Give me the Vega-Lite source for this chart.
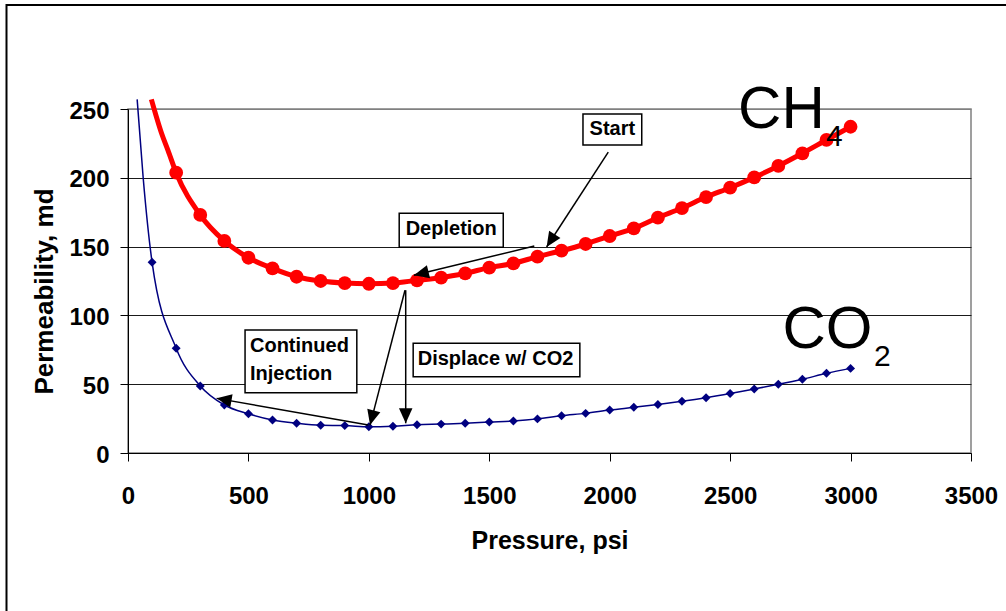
{
  "$schema": "https://vega.github.io/schema/vega-lite/v6.json",
  "width": 843,
  "height": 344,
  "autosize": "none",
  "padding": {"left": 128, "top": 109, "right": 35, "bottom": 158},
  "background": "white",
  "config": {
    "font": "Liberation Sans",
    "view": {"stroke": "#808080", "strokeWidth": 1.5}
  },
  "datasets": {
    "curves": [
      {"gas": "CH4", "p": 97, "k": 257, "obs": "curve"},
      {"gas": "CH4", "p": 140, "k": 232, "obs": "curve"},
      {"gas": "CH4", "p": 166, "k": 220, "obs": "curve"},
      {"gas": "CH4", "p": 200, "k": 203.7, "obs": "measured"},
      {"gas": "CH4", "p": 300, "k": 173, "obs": "measured"},
      {"gas": "CH4", "p": 400, "k": 154.1, "obs": "measured"},
      {"gas": "CH4", "p": 500, "k": 141.9, "obs": "measured"},
      {"gas": "CH4", "p": 600, "k": 134.2, "obs": "measured"},
      {"gas": "CH4", "p": 700, "k": 128.1, "obs": "measured"},
      {"gas": "CH4", "p": 800, "k": 125, "obs": "measured"},
      {"gas": "CH4", "p": 900, "k": 123.5, "obs": "measured"},
      {"gas": "CH4", "p": 1000, "k": 123, "obs": "measured"},
      {"gas": "CH4", "p": 1100, "k": 123.5, "obs": "measured"},
      {"gas": "CH4", "p": 1200, "k": 125.5, "obs": "measured"},
      {"gas": "CH4", "p": 1300, "k": 127.4, "obs": "measured"},
      {"gas": "CH4", "p": 1400, "k": 130.6, "obs": "measured"},
      {"gas": "CH4", "p": 1500, "k": 134.7, "obs": "measured"},
      {"gas": "CH4", "p": 1600, "k": 137.8, "obs": "measured"},
      {"gas": "CH4", "p": 1700, "k": 142.7, "obs": "measured"},
      {"gas": "CH4", "p": 1800, "k": 147, "obs": "measured"},
      {"gas": "CH4", "p": 1900, "k": 151.9, "obs": "measured"},
      {"gas": "CH4", "p": 2000, "k": 157.7, "obs": "measured"},
      {"gas": "CH4", "p": 2100, "k": 163.3, "obs": "measured"},
      {"gas": "CH4", "p": 2200, "k": 171, "obs": "measured"},
      {"gas": "CH4", "p": 2300, "k": 178, "obs": "measured"},
      {"gas": "CH4", "p": 2400, "k": 186, "obs": "measured"},
      {"gas": "CH4", "p": 2500, "k": 192.8, "obs": "measured"},
      {"gas": "CH4", "p": 2600, "k": 200.3, "obs": "measured"},
      {"gas": "CH4", "p": 2700, "k": 208.6, "obs": "measured"},
      {"gas": "CH4", "p": 2800, "k": 217.8, "obs": "measured"},
      {"gas": "CH4", "p": 2900, "k": 227.5, "obs": "measured"},
      {"gas": "CH4", "p": 3000, "k": 237.1, "obs": "measured"},
      {"gas": "CO2", "p": 38, "k": 257, "obs": "curve"},
      {"gas": "CO2", "p": 63, "k": 200, "obs": "curve"},
      {"gas": "CO2", "p": 100, "k": 138.6, "obs": "measured"},
      {"gas": "CO2", "p": 200, "k": 76.1, "obs": "measured"},
      {"gas": "CO2", "p": 300, "k": 48.7, "obs": "measured"},
      {"gas": "CO2", "p": 400, "k": 34.9, "obs": "measured"},
      {"gas": "CO2", "p": 500, "k": 28.5, "obs": "measured"},
      {"gas": "CO2", "p": 600, "k": 24, "obs": "measured"},
      {"gas": "CO2", "p": 700, "k": 21.6, "obs": "measured"},
      {"gas": "CO2", "p": 800, "k": 20.1, "obs": "measured"},
      {"gas": "CO2", "p": 900, "k": 19.9, "obs": "measured"},
      {"gas": "CO2", "p": 1000, "k": 19.1, "obs": "measured"},
      {"gas": "CO2", "p": 1100, "k": 19.5, "obs": "measured"},
      {"gas": "CO2", "p": 1200, "k": 20.5, "obs": "measured"},
      {"gas": "CO2", "p": 1300, "k": 21, "obs": "measured"},
      {"gas": "CO2", "p": 1400, "k": 21.6, "obs": "measured"},
      {"gas": "CO2", "p": 1500, "k": 22.5, "obs": "measured"},
      {"gas": "CO2", "p": 1600, "k": 23.3, "obs": "measured"},
      {"gas": "CO2", "p": 1700, "k": 24.8, "obs": "measured"},
      {"gas": "CO2", "p": 1800, "k": 27.1, "obs": "measured"},
      {"gas": "CO2", "p": 1900, "k": 28.8, "obs": "measured"},
      {"gas": "CO2", "p": 2000, "k": 31.2, "obs": "measured"},
      {"gas": "CO2", "p": 2100, "k": 33.2, "obs": "measured"},
      {"gas": "CO2", "p": 2200, "k": 35.3, "obs": "measured"},
      {"gas": "CO2", "p": 2300, "k": 37.6, "obs": "measured"},
      {"gas": "CO2", "p": 2400, "k": 40.2, "obs": "measured"},
      {"gas": "CO2", "p": 2500, "k": 43.2, "obs": "measured"},
      {"gas": "CO2", "p": 2600, "k": 46.5, "obs": "measured"},
      {"gas": "CO2", "p": 2700, "k": 49.9, "obs": "measured"},
      {"gas": "CO2", "p": 2800, "k": 53.6, "obs": "measured"},
      {"gas": "CO2", "p": 2900, "k": 57.9, "obs": "measured"},
      {"gas": "CO2", "p": 3000, "k": 61.5, "obs": "measured"}
    ],
    "arrows": [
      {"p": 1994, "k": 218.7, "p2": 1738, "k2": 149.7},
      {"p": 1687, "k": 150.4, "p2": 1187, "k2": 129.2},
      {"p": 1150, "k": 118.3, "p2": 1005, "k2": 20.3},
      {"p": 1153, "k": 118.3, "p2": 1153, "k2": 21.6},
      {"p": 998, "k": 20.3, "p2": 368, "k2": 39.7}
    ],
    "boxes": [
      {"name": "Start", "p": 1889, "p2": 2133, "k": 246.4, "k2": 223.8},
      {"name": "Depletion", "p": 1126, "p2": 1558, "k": 174.2, "k2": 149.5},
      {"name": "Continued Injection", "p": 486, "p2": 950, "k": 89.4, "k2": 43.8},
      {"name": "Displace w/ CO2", "p": 1184, "p2": 1876, "k": 79.7, "k2": 55.4}
    ],
    "notes": [
      {"text": "Start", "p": 2011, "k": 231.1},
      {"text": "Depletion", "p": 1342, "k": 158.4},
      {"text": "Displace w/ CO2", "p": 1526, "k": 64}
    ],
    "notesLeft": [
      {"text": "Continued\nInjection", "p": 506.5, "k": 73.6}
    ],
    "gasNames": [
      {"text": "CH", "p": 2533, "k": 236},
      {"text": "CO", "p": 2717, "k": 76.1}
    ],
    "gasSubs": [
      {"text": "4", "p": 2898, "k": 223},
      {"text": "2", "p": 3097, "k": 63.2}
    ]
  },
  "encoding": {
    "x": {
      "field": "p",
      "type": "quantitative",
      "scale": {"domain": [0, 3500], "nice": false, "zero": false},
      "axis": {
        "values": [0, 500, 1000, 1500, 2000, 2500, 3000, 3500],
        "format": "d",
        "grid": false,
        "domainColor": "#000000",
        "domainWidth": 1,
        "tickColor": "#000000",
        "tickSize": 8,
        "labelFont": "Liberation Sans",
        "labelFontSize": 24,
        "labelFontWeight": "bold",
        "labelColor": "#000000",
        "labelPadding": 23,
        "labelFlush": false,
        "labelOverlap": false,
        "title": "Pressure, psi",
        "titleFont": "Liberation Sans",
        "titleFontSize": 25,
        "titleFontWeight": "bold",
        "titleColor": "#000000",
        "titleBaseline": "alphabetic",
        "titleY": 95
      }
    },
    "y": {
      "field": "k",
      "type": "quantitative",
      "scale": {"domain": [0, 250], "nice": false},
      "axis": {
        "values": [0, 50, 100, 150, 200, 250],
        "format": "d",
        "grid": true,
        "gridColor": {"condition": {"test": "datum.value === 250", "value": "#808080"}, "value": "#1a1a1a"},
        "gridWidth": 1,
        "domainColor": "#000000",
        "domainWidth": 1,
        "tickColor": "#000000",
        "tickSize": 8,
        "labelFont": "Liberation Sans",
        "labelFontSize": 24,
        "labelFontWeight": "bold",
        "labelColor": "#000000",
        "labelPadding": 11,
        "labelOffset": 2,
        "labelFlush": false,
        "labelOverlap": false,
        "title": "Permeability, md",
        "titleFont": "Liberation Sans",
        "titleFontSize": 26,
        "titleFontWeight": "bold",
        "titleColor": "#000000",
        "titleAngle": -90,
        "titleAlign": "center",
        "titleBaseline": "alphabetic",
        "titleX": -76,
        "titleY": 182
      }
    }
  },
  "layer": [
    {
      "data": {"values": [{}]},
      "mark": {"type": "rect", "fill": null, "stroke": "#000000", "strokeWidth": 2},
      "encoding": {
        "x": {"value": -121.5},
        "x2": {"value": 920},
        "y": {"value": -104},
        "y2": {"value": 540}
      }
    },
    {
      "data": {"name": "curves"},
      "mark": {"type": "line", "interpolate": "monotone"},
      "encoding": {
        "color": {"field": "gas", "type": "nominal", "scale": {"domain": ["CH4", "CO2"], "range": ["#ff0000", "#000080"]}, "legend": null},
        "strokeWidth": {"field": "gas", "type": "nominal", "scale": {"domain": ["CH4", "CO2"], "range": [5, 1.5]}, "legend": null},
        "detail": {"field": "gas"}
      }
    },
    {
      "data": {"name": "curves"},
      "transform": [{"filter": "datum.obs === 'measured'"}],
      "mark": {"type": "point", "filled": true, "opacity": 1},
      "encoding": {
        "color": {"field": "gas", "type": "nominal", "scale": {"domain": ["CH4", "CO2"], "range": ["#ff0000", "#000080"]}, "legend": null},
        "shape": {"field": "gas", "type": "nominal", "scale": {"domain": ["CH4", "CO2"], "range": ["circle", "diamond"]}, "legend": null},
        "size": {"field": "gas", "type": "nominal", "scale": {"domain": ["CH4", "CO2"], "range": [190, 80]}, "legend": null}
      }
    },
    {
      "data": {"name": "arrows"},
      "mark": {"type": "rule", "color": "#000000", "strokeWidth": 1.5},
      "encoding": {
        "x2": {"field": "p2"},
        "y2": {"field": "k2"}
      }
    },
    {
      "data": {"name": "arrows"},
      "transform": [
        {"calculate": "atan2((datum.p2 - datum.p) * 843 / 3500, (datum.k2 - datum.k) * 344 / 250) * 180 / PI", "as": "ang"}
      ],
      "mark": {"type": "point", "shape": "M0,0L-0.45,1L0.45,1Z", "filled": true, "color": "#000000", "opacity": 1, "size": 900},
      "encoding": {
        "x": {"field": "p2", "type": "quantitative"},
        "y": {"field": "k2", "type": "quantitative"},
        "angle": {"field": "ang", "type": "quantitative", "scale": null}
      }
    },
    {
      "data": {"name": "boxes"},
      "mark": {"type": "rect", "fill": "#ffffff", "stroke": "#000000", "strokeWidth": 1.5},
      "encoding": {
        "x2": {"field": "p2"},
        "y2": {"field": "k2"}
      }
    },
    {
      "data": {"name": "notes"},
      "mark": {"type": "text", "align": "center", "baseline": "alphabetic", "fontSize": 20, "fontWeight": "bold", "color": "#000000"},
      "encoding": {"text": {"field": "text"}}
    },
    {
      "data": {"name": "notesLeft"},
      "mark": {"type": "text", "align": "left", "baseline": "alphabetic", "fontSize": 20, "fontWeight": "bold", "color": "#000000", "lineBreak": "\n", "lineHeight": 28.3},
      "encoding": {"text": {"field": "text"}}
    },
    {
      "data": {"name": "gasNames"},
      "mark": {"type": "text", "align": "left", "baseline": "alphabetic", "fontSize": 60, "color": "#000000"},
      "encoding": {"text": {"field": "text"}}
    },
    {
      "data": {"name": "gasSubs"},
      "mark": {"type": "text", "align": "left", "baseline": "alphabetic", "fontSize": 30, "color": "#000000"},
      "encoding": {"text": {"field": "text"}}
    }
  ]
}
